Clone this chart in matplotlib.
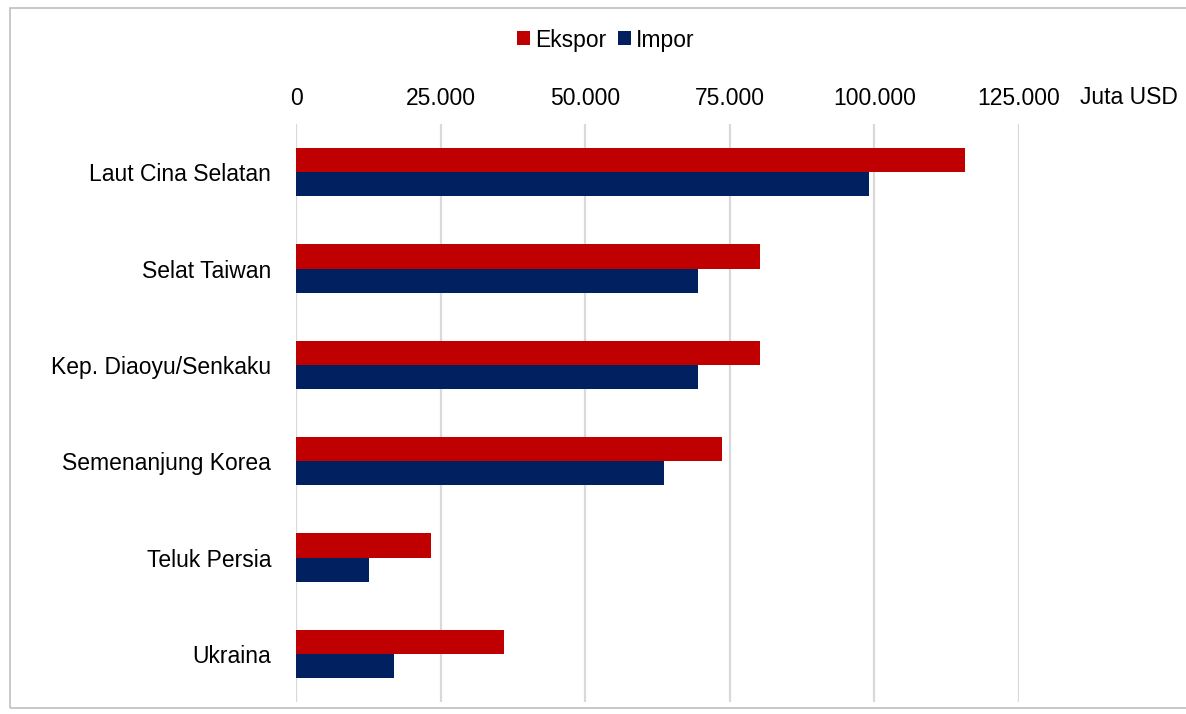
import numpy as np
import matplotlib.pyplot as plt
from matplotlib.patches import Rectangle

plt.rcParams['font.family'] = ['Liberation Sans', 'DejaVu Sans']

# Data (Juta USD)
kategori = ["Laut Cina Selatan", "Selat Taiwan", "Kep. Diaoyu/Senkaku",
            "Semenanjung Korea", "Teluk Persia", "Ukraina"]
ekspor = [115600, 80200, 80200, 73700, 23300, 36000]
impor = [99000, 69500, 69500, 63700, 12600, 16900]
x_ticks = [0, 25000, 50000, 75000, 100000, 125000]
x_labels = ["0", "25.000", "50.000", "75.000", "100.000", "125.000"]

merah = "#C00000"
biru = "#002060"
fs = 16.5

fig = plt.figure(figsize=(11.86, 7.14), dpi=100)
ax = fig.add_axes([0.2496, 0.0168, 0.8592 - 0.2496, 0.8263 - 0.0168])

y = np.arange(len(kategori))
h = 0.25
ax.barh(y - h / 2, ekspor, height=h, color=merah, label="Ekspor", zorder=3)
ax.barh(y + h / 2, impor, height=h, color=biru, label="Impor", zorder=3)

ax.set_ylim(len(kategori) - 0.5, -0.5)
ax.set_xlim(0, 125000)
ax.set_yticks(y)
ax.set_yticklabels(kategori, fontsize=fs)
ax.set_xticks(x_ticks)
ax.set_xticklabels(x_labels, fontsize=fs)
ax.xaxis.tick_top()
ax.tick_params(axis='x', length=0, pad=10)
ax.tick_params(axis='y', length=0, pad=18)
ax.grid(axis='x', color="#D9D9D9", linewidth=1.6, zorder=0)
for s in ax.spines.values():
    s.set_visible(False)

ax.text((1080 - 296) / 723, (702 - 97) / 578, "Juta USD", transform=ax.transAxes,
        fontsize=fs, ha='left', va='center')

fig.legend(loc='center', bbox_to_anchor=(606 / 1186, 1 - 40 / 714), ncol=2,
           frameon=False, fontsize=fs, handlelength=0.55, handleheight=0.55,
           handletextpad=0.25, columnspacing=0.5)

# chart frame
fig.patches.append(Rectangle((10 / 1186, 6 / 714), 1.2, 1 - 14 / 714,
                             transform=fig.transFigure, fill=False,
                             edgecolor="#BFBFBF", linewidth=1.2))

fig.savefig("out.png", dpi=100)
